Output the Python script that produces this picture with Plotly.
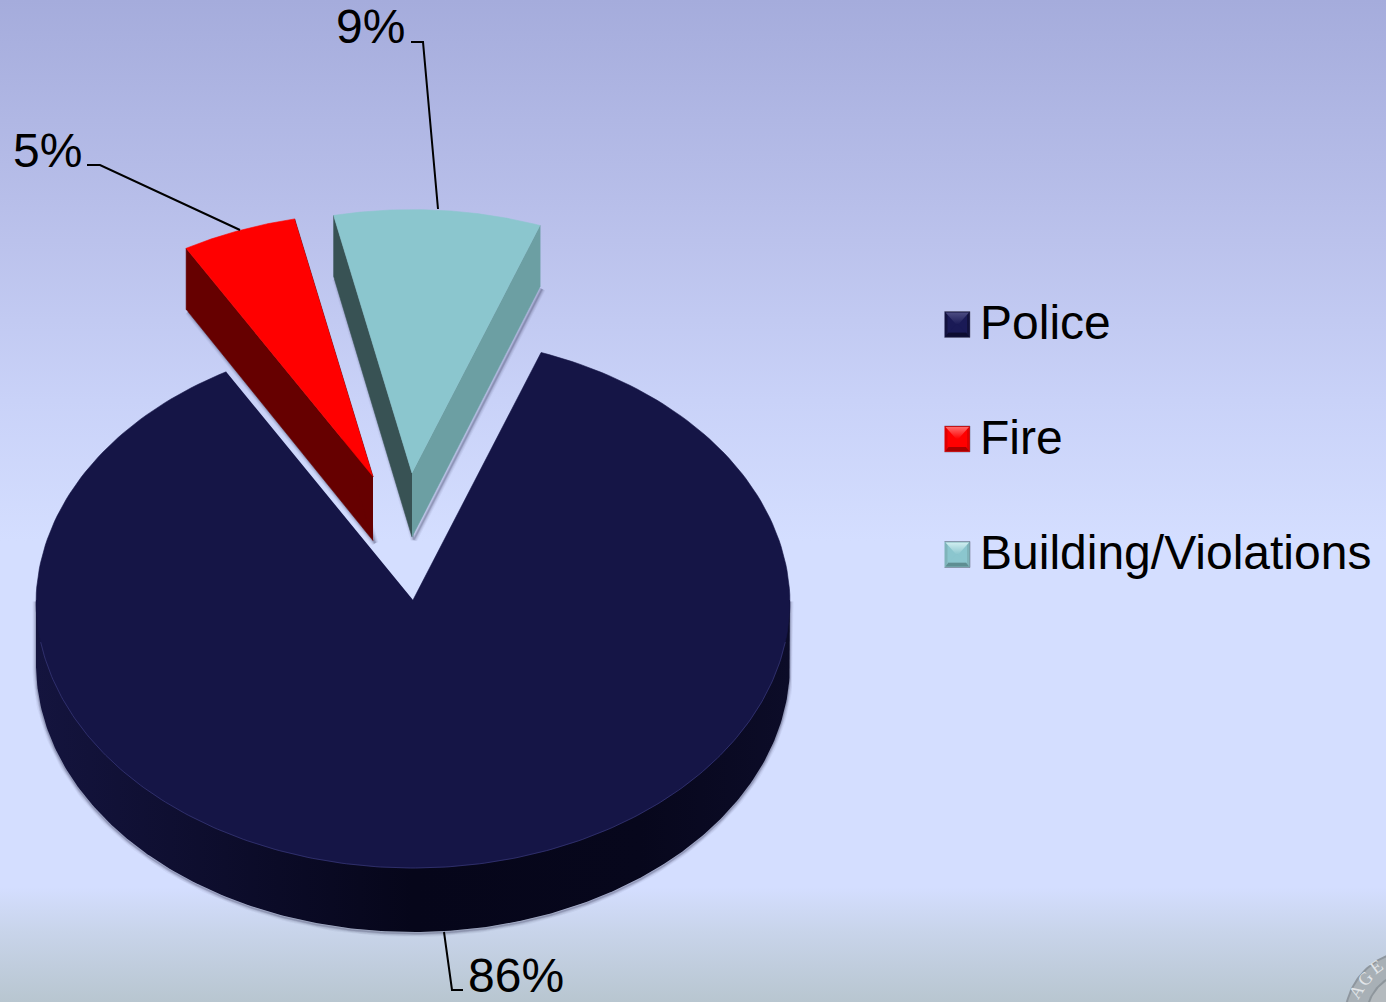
import numpy as np
import plotly.graph_objects as go

# Chart data
categories = ["Police", "Fire", "Building/Violations"]
shares = [86, 5, 9]
share_labels = ["86%", "5%", "9%"]

# Colours of the pie faces
top_colors = ["#151546", "#FF0000", "#8BC6CE"]
left_wall_colors = ["#12123A", "#660000", "#385254"]
right_wall_colors = ["#07071A", "#660000", "#6C9FA3"]

# Bevelled legend swatches: highlight, base, side, lower edge
swatch_colors = [
    ["#4C4C82", "#1A1A56", "#12123E", "#0C0C30"],
    ["#FF6A6A", "#FF0000", "#E00000", "#A80000"],
    ["#D0EEF0", "#8BC6CE", "#7FB4BA", "#5E8E92"],
]

# Projection of the tilted pie, in page pixels
CENTER = (413.0, 600.0)
RX, RY = 377.0, 268.0
DEPTH = 64.0
FAR_SHRINK = 0.017
FIRST_ANGLE = 20.2
EXPLODE = [(0.0, 0.0), (-40.0, -123.5), (-1.0, -127.0)]

W, H = 1386, 1002

fig = go.Figure()


def add_poly(xs, ys, color=None, gradient=None, line=None):
    kw = {}
    if gradient:
        kw["fillgradient"] = gradient
    elif color:
        kw["fillcolor"] = color
    fig.add_trace(go.Scatter(
        x=list(xs), y=list(ys), mode="lines", fill="toself",
        line=line or dict(width=0), hoverinfo="skip", showlegend=False, **kw))


def add_line(xs, ys, color="#000000", width=2):
    fig.add_trace(go.Scatter(
        x=list(xs), y=list(ys), mode="lines", line=dict(color=color, width=width),
        hoverinfo="skip", showlegend=False))


def soft_edge(xs, ys, dx=2.0, dy=2.5):
    """Blurred drop shadow built from stacked translucent outlines."""
    xs = np.asarray(xs) + dx
    ys = np.asarray(ys) + dy
    for w, a in ((7, 0.05), (5, 0.08), (3, 0.12), (1.5, 0.18)):
        add_line(xs, ys, color=f"rgba(40,40,70,{a})", width=w)


def arc(a0, a1, ox=0.0, oy=0.0, n=240):
    """Points on the pie's edge; the far side is slightly foreshortened."""
    t = np.radians(np.linspace(a0, a1, n))
    f = 1 - FAR_SHRINK * np.clip(np.cos(t), 0, None)
    return CENTER[0] + ox + f * RX * np.sin(t), CENTER[1] + oy - f * RY * np.cos(t)


# Page background
add_poly([0, W, W, 0, 0], [0, 0, H, H, 0], gradient=dict(
    type="vertical", start=0, stop=H,
    colorscale=[[0, "#A5ACDC"], [0.24, "#BBC2EC"], [0.4, "#C9D2F8"], [0.54, "#D4DEFF"],
                [0.885, "#D4DEFF"], [0.93, "#C8D4EA"], [1, "#B8C6D0"]]))

# Corner seal
sx, sy, sr = 1412.0, 1018.0, 68.0
st = np.linspace(0, 2 * np.pi, 200)
add_poly(sx + sr * np.cos(st), sy + sr * np.sin(st), color="#8E969E")
add_poly(sx + (sr - 2) * np.cos(st), sy + (sr - 2) * np.sin(st), color="#A8B0B6")
add_poly(sx + (sr - 21) * np.cos(st), sy + (sr - 21) * np.sin(st), color="#8E969C")
add_poly(sx + (sr - 23) * np.cos(st), sy + (sr - 23) * np.sin(st), color="#B4BABE")

# Running angle of each slice, clockwise from the top of the pie
spans = []
start = FIRST_ANGLE
for s in shares:
    sweep = 360.0 * s / sum(shares)
    spans.append((start, start + sweep))
    start += sweep

# Main slice: rim first (reaching under the top face so no seam shows), then the top face
a0, a1 = spans[0]
x_top, y_top = arc(a0, a1)
bx, by = arc(90, 270)
rim_x = np.concatenate([[bx[0]], bx, [bx[-1]]])
rim_y = np.concatenate([[by[0]], by + DEPTH, [by[-1]]])
soft_edge(rim_x, rim_y, dx=0, dy=1.5)
add_poly(rim_x, rim_y, gradient=dict(
    type="horizontal", start=CENTER[0] - RX, stop=CENTER[0] + RX,
    colorscale=[[0, "#14143E"], [0.5, "#06061A"], [0.8, "#07071C"], [1, "#0C0C28"]]))
add_poly(np.concatenate([[CENTER[0]], x_top]), np.concatenate([[CENTER[1]], y_top]),
         color=top_colors[0], line=dict(color=top_colors[0], width=0.6))
add_line(bx[12:-12], by[12:-12], color="rgba(70,70,140,0.55)", width=1)

# Exploded slices
for i in (1, 2):
    a0, a1 = spans[i]
    ox, oy = EXPLODE[i]
    ax, ay = CENTER[0] + ox, CENTER[1] + oy
    x_top, y_top = arc(a0, a1, ox, oy)
    lx, ly = x_top[0], y_top[0]      # leading corner, on the left
    rx, ry = x_top[-1], y_top[-1]    # trailing corner, on the right
    wall = DEPTH - 3
    soft_edge([lx, ax, rx], [ly + wall, ay + DEPTH, ry + wall])
    add_poly([ax, lx, lx, ax], [ay, ly, ly + wall, ay + DEPTH], color=left_wall_colors[i],
             line=dict(color=left_wall_colors[i], width=0.6))
    add_poly([ax, rx, rx, ax], [ay, ry, ry + wall, ay + DEPTH], color=right_wall_colors[i],
             line=dict(color=right_wall_colors[i], width=0.6))
    add_poly(np.concatenate([[ax], x_top]), np.concatenate([[ay], y_top]), color=top_colors[i],
             line=dict(color=top_colors[i], width=0.6))

# Leader lines
add_line([444, 452, 463], [932, 990, 990], width=2)
add_line([87, 100, 240], [165, 165, 230], width=2)
add_line([411, 423, 438], [42, 42, 209], width=2)

annotations = []
for text, (cx, cy) in zip(share_labels, [(516, 975), (47.5, 150), (370.5, 26)]):
    annotations.append(dict(x=cx, y=cy, text=text, showarrow=False, xanchor="center", yanchor="middle",
                            font=dict(family="Liberation Sans", size=48, color="#000000")))

# Legend: bevelled swatch and label per category
for cat, colors, ly, ty in zip(categories, swatch_colors, [324.5, 439, 554.5], [322, 437, 552]):
    x0, x1, y0, y1 = 944.5, 970.0, ly - 13, ly + 13
    xm, ym = (x0 + x1) / 2, (y0 + y1) / 2
    add_poly([x0, x1, x1, x0], [y0, y0, y1, y1], color=colors[2],
             line=dict(color="rgba(90,90,110,0.45)", width=1))
    add_poly([x0 + 3, xm, xm, x0 + 3], [y0 + 2, ym, ym, y1 - 3], color=colors[1])
    add_poly([x1 - 3, xm, xm, x1 - 3], [y0 + 2, ym, ym, y1 - 3], color=colors[1])
    add_poly([x0 + 1, x1 - 1, xm + 1, xm - 1], [y0 + 1, y0 + 1, ym, ym], gradient=dict(
        type="vertical", start=y0 + 1, stop=ym, colorscale=[[0, colors[0]], [1, colors[1]]]))
    add_poly([x0 + 1, x1 - 1, x1 - 4, x0 + 4], [y1 - 1, y1 - 1, y1 - 5, y1 - 5], color=colors[3])
    add_poly([x0 + 4, x1 - 4, xm + 1, xm - 1], [y1 - 5, y1 - 5, ym, ym], color=colors[1])
    annotations.append(dict(x=978, y=ty, text=cat, showarrow=False, xanchor="left", yanchor="middle",
                            font=dict(family="Liberation Sans", size=48, color="#000000")))

# Lettering on the seal rim
for ch, (cx, cy, rot) in zip("AGE", [(1356, 992, -58), (1365, 979, -47), (1376, 967, -36)]):
    annotations.append(dict(x=cx, y=cy, text=ch, showarrow=False, textangle=rot,
                            font=dict(family="Liberation Serif", size=18, color="#E2E6EA")))

fig.update_layout(
    width=W, height=H, margin=dict(l=0, r=0, t=0, b=0), showlegend=False,
    paper_bgcolor="#D4DEFF", plot_bgcolor="#D4DEFF", annotations=annotations,
    xaxis=dict(range=[0, W], visible=False, fixedrange=True),
    yaxis=dict(range=[H, 0], visible=False, fixedrange=True),
)

fig.write_html("out.html", config={"displayModeBar": False})
